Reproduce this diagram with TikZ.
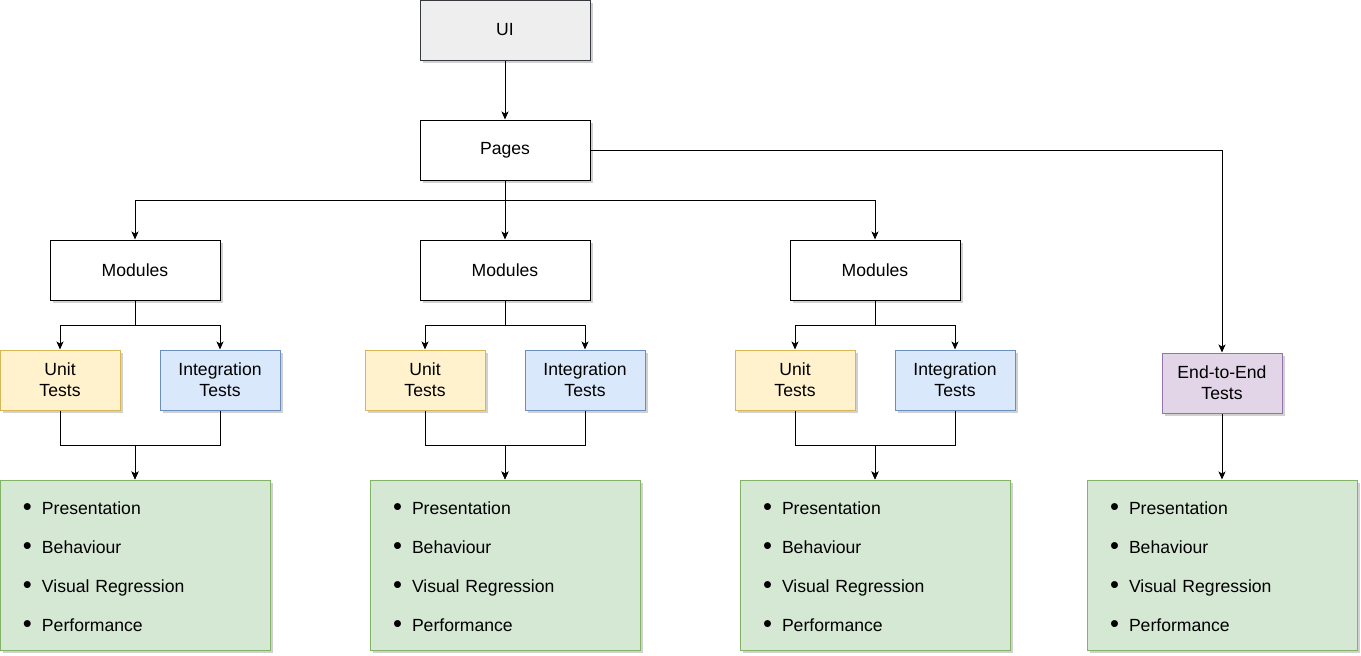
\documentclass[tikz,border=0pt]{standalone}
\usepackage{fontspec}
\setmainfont{Liberation Sans}
\usetikzlibrary{arrows.meta,shadows}
\definecolor{uifill}{HTML}{EEEEEE}
\definecolor{uidraw}{HTML}{36393D}
\definecolor{ylfill}{HTML}{FFF2CC}
\definecolor{yldraw}{HTML}{D6B656}
\definecolor{blfill}{HTML}{DAE8FC}
\definecolor{bldraw}{HTML}{6C8EBF}
\definecolor{pufill}{HTML}{E1D5E7}
\definecolor{pudraw}{HTML}{9673A6}
\definecolor{grfill}{HTML}{D5E8D4}
\definecolor{grdraw}{HTML}{82B366}
\tikzset{
  x=1pt,y=1pt,
  box/.style={rectangle, draw=black, fill=white, line width=1pt, inner sep=0pt,
    align=center, font=\fontsize{17.6}{21}\selectfont,
    drop shadow={shadow xshift=3pt, shadow yshift=-3pt, opacity=0.3, fill=black!60}},
  wide/.style={box, minimum width=170pt, minimum height=60pt},
  small/.style={box, minimum width=120pt, minimum height=60pt},
  uibox/.style={wide, fill=uifill, draw=uidraw},
  unitbox/.style={small, fill=ylfill, draw=yldraw},
  intbox/.style={small, fill=blfill, draw=bldraw},
  e2ebox/.style={small, fill=pufill, draw=pudraw},
  listbox/.style={box, fill=grfill, draw=grdraw, minimum width=270pt, minimum height=170pt,
    text width=246pt, inner xsep=12pt, align=left, font=\fontsize{17.6}{39}\selectfont},
  arr/.style={draw=black, line width=1pt, -{Stealth[length=8pt,width=7pt,inset=2pt]}},
}
\newcommand{\bl}{\hspace*{11pt}\makebox[19pt][l]{\raisebox{-0.5pt}{\scalebox{1.45}{\textbullet}}}}
\newcommand{\testlist}{\rule{0pt}{17pt}\bl Presentation\\\bl Behaviour\\\bl Visual Regression\\\bl Performance}
\begin{document}
\begin{tikzpicture}
\useasboundingbox (0,0) rectangle (1361,-656);
\node[uibox] (ui) at (505,-30) {UI};
\node[wide] (pg) at (505,-150) {Pages};
\node[wide] (m1) at (135,-270) {Modules};
\node[wide] (m2) at (505,-270) {Modules};
\node[wide] (m3) at (875,-270) {Modules};
\node[unitbox] (u1) at (60,-380) {Unit\\Tests};
\node[intbox] (i1) at (220,-380) {Integration\\Tests};
\node[unitbox] (u2) at (425,-380) {Unit\\Tests};
\node[intbox] (i2) at (585,-380) {Integration\\Tests};
\node[unitbox] (u3) at (795,-380) {Unit\\Tests};
\node[intbox] (i3) at (955,-380) {Integration\\Tests};
\node[e2ebox] (e) at (1222,-383) {End-to-End\\Tests};
\node[listbox] (g1) at (135,-565) {\testlist};
\node[listbox] (g2) at (505,-565) {\testlist};
\node[listbox] (g3) at (875,-565) {\testlist};
\node[listbox] (g4) at (1222,-565) {\testlist};

\draw[arr] (ui.south) -- (pg.north);
\draw[arr] (pg.south) -- ++(0,-20) -| (m1.north);
\draw[arr] (pg.south) -- (m2.north);
\draw[arr] (pg.south) -- ++(0,-20) -| (m3.north);
\draw[arr] (pg.east) -| (e.north);
\foreach \m/\u/\i/\g in {m1/u1/i1/g1, m2/u2/i2/g2, m3/u3/i3/g3}{
  \draw[arr] (\m.south) -- ++(0,-25) -| (\u.north);
  \draw[arr] (\m.south) -- ++(0,-25) -| (\i.north);
  \draw[arr] (\u.south) -- ++(0,-35) -| (\g.north);
  \draw[arr] (\i.south) -- ++(0,-35) -| (\g.north);
}
\draw[arr] (e.south) -- (g4.north);
\end{tikzpicture}
\end{document}
